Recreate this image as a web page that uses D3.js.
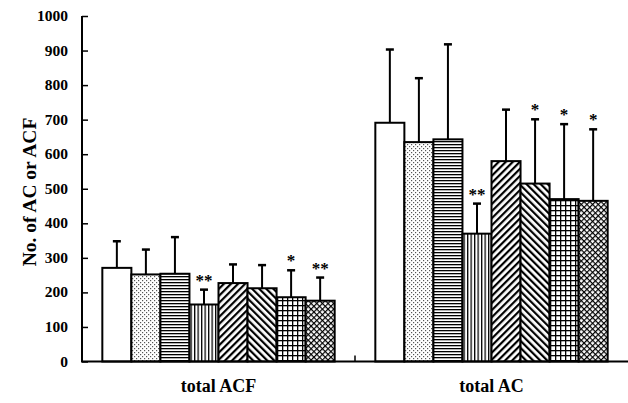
<!DOCTYPE html>
<html>
<head>
<meta charset="utf-8">
<script src="https://cdn.jsdelivr.net/npm/d3@7"></script>
<style>
  body { margin: 0; background: #fff; }
  text { font-family: "Liberation Serif", "Times New Roman", serif; font-weight: bold; fill: #000; }
</style>
</head>
<body>
<svg id="chart" width="628" height="403"></svg>
<script>
// groups on the x axis and the eight treatments inside each group
var groups = ["total ACF", "total AC"];
var series = ["s1", "s2", "s3", "s4", "s5", "s6", "s7", "s8"];

// mean values
var acfMeans = [271, 252, 254, 165, 227, 212, 186, 176];
var acMeans  = [691, 635, 643, 370, 580, 515, 470, 465];
// top of the error bars
var acfUpper = [348, 324, 360, 208, 281, 279, 264, 243];
var acUpper  = [903, 820, 918, 457, 729, 701, 687, 672];
// significance marks
var acfMarks = ["", "", "", "**", "", "", "*", "**"];
var acMarks  = ["", "", "", "**", "", "*", "*", "*"];

var yTicks = [0, 100, 200, 300, 400, 500, 600, 700, 800, 900, 1000];

var svg = d3.select("#chart");
var padL = 82, padR = 628, padT = 16, baseY = 361.5;

var x0 = d3.scaleBand().domain(groups).range([padL, padR]);
var x1 = d3.scaleBand().domain(series).range([0, x0.bandwidth()]).paddingOuter(0.7);
var y = d3.scaleLinear().domain([0, 1000]).range([baseY, padT]);

// fill patterns, one per treatment
var defs = svg.append("defs");
function pattern(id, w, h) {
    return defs.append("pattern").attr("id", id).attr("patternUnits", "userSpaceOnUse")
        .attr("width", w).attr("height", h);
}
var p;
p = pattern("p2", 4, 4);
p.append("rect").attr("width", 4).attr("height", 4).attr("fill", "#fff");
p.append("rect").attr("x", 0).attr("y", 0).attr("width", 1.2).attr("height", 1.2).attr("fill", "#555");
p.append("rect").attr("x", 2).attr("y", 2).attr("width", 1.2).attr("height", 1.2).attr("fill", "#555");

p = pattern("p3", 4, 3);
p.append("rect").attr("width", 4).attr("height", 3).attr("fill", "#fff");
p.append("rect").attr("y", 0).attr("width", 4).attr("height", 1.3).attr("fill", "#000");

p = pattern("p4", 3.5, 4);
p.append("rect").attr("width", 3.5).attr("height", 4).attr("fill", "#fff");
p.append("rect").attr("x", 0).attr("width", 1.3).attr("height", 4).attr("fill", "#000");

p = pattern("p5", 5, 5).attr("patternTransform", "rotate(45)");
p.append("rect").attr("width", 5).attr("height", 5).attr("fill", "#fff");
p.append("rect").attr("width", 2.2).attr("height", 5).attr("fill", "#000");

p = pattern("p6", 5, 5).attr("patternTransform", "rotate(-45)");
p.append("rect").attr("width", 5).attr("height", 5).attr("fill", "#fff");
p.append("rect").attr("width", 2.2).attr("height", 5).attr("fill", "#000");

p = pattern("p7", 5, 5);
p.append("rect").attr("width", 5).attr("height", 5).attr("fill", "#fff");
p.append("rect").attr("width", 1.3).attr("height", 5).attr("fill", "#000");
p.append("rect").attr("width", 5).attr("height", 1.3).attr("fill", "#000");

p = pattern("p8", 4, 4).attr("patternTransform", "rotate(45)");
p.append("rect").attr("width", 4).attr("height", 4).attr("fill", "#fff");
p.append("rect").attr("width", 1.2).attr("height", 4).attr("fill", "#000");
p.append("rect").attr("width", 4).attr("height", 1.2).attr("fill", "#000");

var fills = ["#fff", "url(#p2)", "url(#p3)", "url(#p4)", "url(#p5)", "url(#p6)", "url(#p7)", "url(#p8)"];

var data = [
    { group: groups[0], means: acfMeans, upper: acfUpper, marks: acfMarks },
    { group: groups[1], means: acMeans, upper: acUpper, marks: acMarks }
];

var g = svg.selectAll("g.grp").data(data).enter().append("g")
    .attr("class", "grp")
    .attr("transform", function (d) { return "translate(" + x0(d.group) + ",0)"; });

var items = g.selectAll("g.item").data(function (d) {
    return series.map(function (s, i) {
        return { s: s, i: i, v: d.means[i], up: d.upper[i], mark: d.marks[i] };
    });
}).enter().append("g").attr("class", "item");

// error bars first, so the bar outline sits on top
items.append("line")
    .attr("x1", function (d) { return x1(d.s) + x1.bandwidth() / 2; })
    .attr("x2", function (d) { return x1(d.s) + x1.bandwidth() / 2; })
    .attr("y1", function (d) { return y(d.v); })
    .attr("y2", function (d) { return y(d.up); })
    .attr("stroke", "#000").attr("stroke-width", 2);
items.append("line")
    .attr("x1", function (d) { return x1(d.s) + x1.bandwidth() / 2 - 4; })
    .attr("x2", function (d) { return x1(d.s) + x1.bandwidth() / 2 + 4; })
    .attr("y1", function (d) { return y(d.up); })
    .attr("y2", function (d) { return y(d.up); })
    .attr("stroke", "#000").attr("stroke-width", 2.5);

items.append("rect")
    .attr("x", function (d) { return x1(d.s); })
    .attr("y", function (d) { return y(d.v); })
    .attr("width", x1.bandwidth())
    .attr("height", function (d) { return y(0) - y(d.v); })
    .attr("fill", function (d) { return fills[d.i]; })
    .attr("stroke", "#000").attr("stroke-width", 2);

items.append("text")
    .attr("x", function (d) { return x1(d.s) + x1.bandwidth() / 2; })
    .attr("y", function (d) { return y(d.up) - 4; })
    .attr("text-anchor", "middle")
    .style("font-size", "17px")
    .text(function (d) { return d.mark; });

// y axis with inward ticks
var yAxis = svg.append("g").attr("transform", "translate(" + padL + ",0)")
    .call(d3.axisRight(y).tickValues(yTicks).tickSize(6).tickFormat(""));
yAxis.select(".domain").attr("d", "M0," + padT + "V" + baseY).attr("stroke-width", 2);
yAxis.selectAll(".tick line").attr("stroke-width", 1.5);
svg.selectAll("text.ylab").data(yTicks).enter().append("text")
    .attr("class", "ylab")
    .attr("x", 68)
    .attr("y", function (d) { return y(d) + 5; })
    .attr("text-anchor", "end")
    .style("font-size", "15.5px")
    .text(function (d) { return d; });

// x axis: baseline with one tick between the groups
svg.append("line").attr("x1", padL - 1).attr("x2", padR).attr("y1", baseY).attr("y2", baseY)
    .attr("stroke", "#000").attr("stroke-width", 2);
svg.append("line").attr("x1", x0(groups[1])).attr("x2", x0(groups[1]))
    .attr("y1", baseY).attr("y2", baseY - 6)
    .attr("stroke", "#000").attr("stroke-width", 1.5);
svg.selectAll("text.xlab").data(groups).enter().append("text")
    .attr("class", "xlab")
    .attr("x", function (d) { return x0(d) + x0.bandwidth() / 2; })
    .attr("y", 392)
    .attr("text-anchor", "middle")
    .style("font-size", "18px")
    .text(function (d) { return d; });

svg.append("text")
    .attr("transform", "translate(36,192) rotate(-90)")
    .attr("text-anchor", "middle")
    .style("font-size", "19.5px")
    .text("No. of AC or ACF");
</script>
</body>
</html>
